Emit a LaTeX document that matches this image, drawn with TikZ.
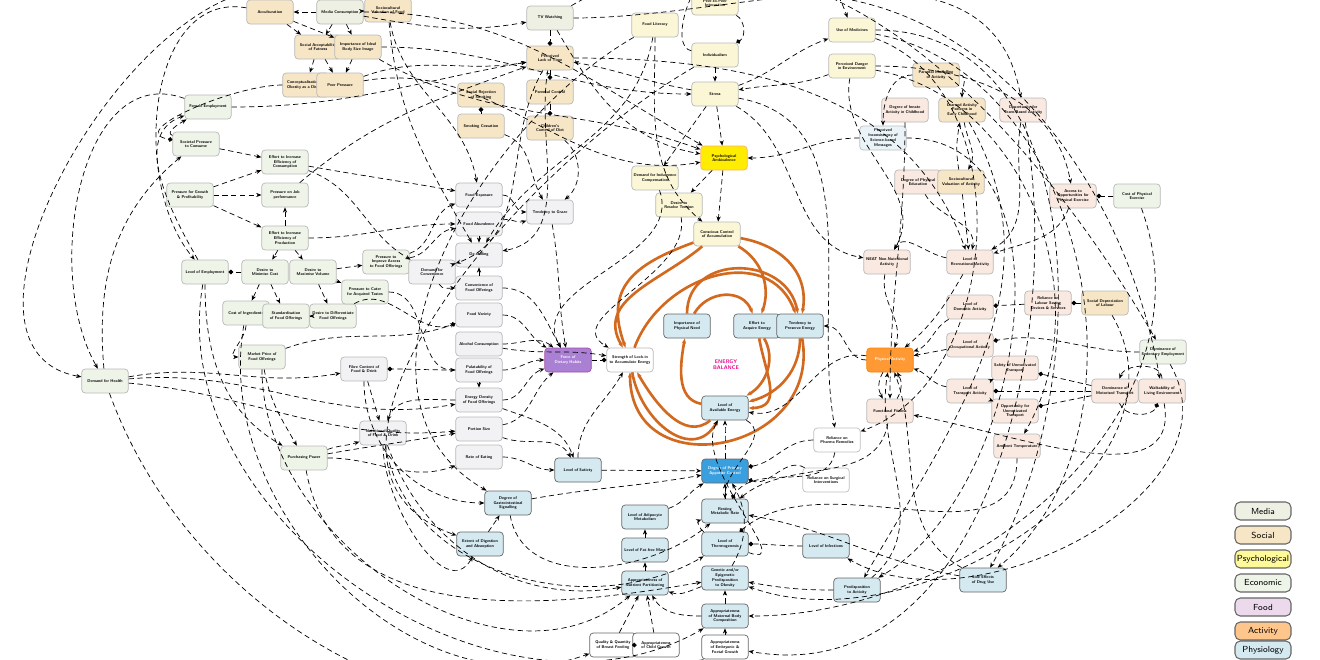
\documentclass[tikz,border=0pt]{standalone}
\usepackage{tikz}
\usetikzlibrary{arrows.meta}
\definecolor{mediac}{HTML}{EDF0E2}
\definecolor{socialc}{HTML}{F6E6C6}
\definecolor{psychc}{HTML}{FBF6D6}
\definecolor{econc}{HTML}{EEF4E8}
\definecolor{foodc}{HTML}{F2F2F5}
\definecolor{actc}{HTML}{F9E9E0}
\definecolor{physc}{HTML}{D5E9F1}
\definecolor{loopc}{HTML}{D2691E}
\newcommand{\nohyph}{\hyphenpenalty=10000\exhyphenpenalty=10000\relax}

\begin{document}
\begin{tikzpicture}[x=0.02cm, y=-0.02cm,
    main/.style = {draw=gray!55, rounded corners=2pt, align=center, inner sep=1pt,
        minimum height=0.48cm, text width=0.86cm, font=\sffamily\bfseries\fontsize{2.3}{2.7}\selectfont,
        execute at begin node=\nohyph},
    media/.style = {main, fill=mediac},
    social/.style = {main, fill=socialc},
    psych/.style = {main, fill=psychc},
    econ/.style = {main, fill=econc},
    food/.style = {main, fill=foodc},
    act/.style = {main, fill=actc},
    phys/.style = {main, fill=physc, draw=gray!80!black},
    key/.style = {main, draw=gray!80!black, line width=0.6pt, text width=1.05cm, minimum height=0.36cm, rounded corners=3pt, font=\sffamily\fontsize{5}{6}\selectfont},
    link/.style = {densely dashed, line width=0.4pt, -{Stealth[length=3pt,width=2.4pt]}},
    neg/.style = {densely dashed, line width=0.4pt, -{Circle[length=2.6pt]}},
    eb/.style = {draw=loopc, line width=1.5pt, -{Stealth[length=3pt]}}]
\fill[white] (0,0) rectangle (1320,660);
\useasboundingbox (0,0) rectangle (1320,660);

% social and media
\node [social] (acc) at (270,12) {Acculturation};
\node [media] (media) at (340,12) {Media Consumption};
\node [social] (scvf) at (388,10) {Sociocultural Valuation of Food};
\node [social] (sacc) at (318,47) {Social Acceptability of Fatness};
\node [social] (ideal) at (358,47) {Importance of Ideal Body Size Image};
\node [social] (comm) at (306,85) {Conceptualisation of Obesity as a Disease};
\node [social] (peer) at (340,85) {Peer Pressure};
\node [social] (srs) at (481,95) {Social Rejection of Smoking};
\node [social] (smoke) at (481,126) {Smoking Cessation};
\node [social] (pctrl) at (550,92) {Parental Control};
\node [social] (child) at (550,128) {Children's Control of Diet};
\node [media] (tv) at (550,18) {TV Watching};
\node [social] (lack) at (550,58) {Perceived Lack of Time};

% economic
\node [econ] (femp) at (208,107) {Female Employment};
\node [econ] (spc) at (196,144) {Societal Pressure to Consume};
\node [econ] (eic) at (285,162) {Effort to Increase Efficiency of Consumption};
\node [econ] (pgp) at (190,195) {Pressure for Growth \& Profitability};
\node [econ] (pjp) at (285,195) {Pressure on Job performance};
\node [econ] (eip) at (285,238) {Effort to Increase Efficiency of Production};
\node [econ] (lemp) at (205,272) {Level of Employment};
\node [econ] (dmc) at (265,272) {Desire to Minimise Cost};
\node [econ] (dmv) at (313,272) {Desire to Maximise Volume};
\node [econ] (coi) at (246,313) {Cost of Ingredients};
\node [econ] (std) at (286,316) {Standardisation of Food Offerings};
\node [econ] (ddf) at (333,316) {Desire to Differentiate Food Offerings};
\node [econ] (pia) at (386,262) {Pressure to Improve Access to Food Offerings};
\node [econ] (pcat) at (365,292) {Pressure to Cater for Acquired Tastes};
\node [econ] (mpf) at (262,357) {Market Price of Food Offerings};
\node [econ] (dfh) at (105,381) {Demand for Health};
\node [econ] (pp) at (304,458) {Purchasing Power};

% food
\node [food] (fexp) at (479,195) {Food Exposure};
\node [food] (fabun) at (479,224) {Food Abundence};
\node [food] (deskill) at (479,255) {De-skilling};
\node [food] (dconv) at (432,272) {Demand for Convenience};
\node [food] (conv) at (479,288) {Convenience of Food Offerings};
\node [food] (fvar) at (479,315) {Food Variety};
\node [food] (alc) at (479,344) {Alcohol Consumption};
\node [food] (graze) at (550,212) {Tendency to Graze};
\node [food] (palat) at (479,370) {Palatability of Food Offerings};
\node [food] (fibre) at (364,369) {Fibre Content of Food \& Drink};
\node [food] (edens) at (479,400) {Energy Density of Food Offerings};
\node [food] (nutq) at (383,433) {Nutritional Quality of Food \& Drink};
\node [food] (port) at (479,429) {Portion Size};
\node [food] (rate) at (479,457) {Rate of Eating};
\node [main, fill={rgb:violet,2;blue,1;white,3}, text=white, draw=violet!70] (fdh) at (568,360) {Force of Dietary Habits};

% psychological
\node [psych] (flit) at (655,25) {Food Literacy};
\node [psych] (p2p) at (715,3) {Peer-to-Peer Interaction};
\node [psych] (indiv) at (715,55) {Individualism};
\node [psych] (stress) at (715,94) {Stress};
\node [psych] (med) at (852,30) {Use of Medicines};
\node [psych] (danger) at (852,66) {Perceived Danger in Environment};
\node [main, fill=yellow!95!orange, draw=orange!60] (pamb) at (724,158) {Psychological Ambivalence};
\node [psych] (dic) at (655,178) {Demand for Indulgence Compensation};
\node [psych] (drt) at (679,205) {Desire to Resolve Tension};
\node [psych] (cca) at (717,234) {Conscious Control of Accumulation};

% activity
\node [social] (pma) at (936,75) {Parental Modelling of Activity};
\node [act] (dia) at (905,110) {Degree of Innate Activity in Childhood};
\node [social] (lap) at (962,110) {Learned Activity Patterns in Early Childhood};
\node [act] (otb) at (1023,110) {Opportunity for Team-Based Activity};
\node [phys, fill=physc!50, draw=gray!50] (pisb) at (883,138) {Perceived Inconsistency of Science-based Messages};
\node [act] (dpe) at (918,182) {Degree of Physical Education};
\node [social] (sva) at (961,182) {Sociocultural Valuation of Activity};
\node [act] (aope) at (1073,196) {Access to Opportunities for Physical Exercise};
\node [econ] (cpe) at (1137,196) {Cost of Physical Exercise};
\node [act] (neat) at (887,262) {NEAT Non-Nutritional Activity};
\node [act] (lra) at (970,262) {Level of Recreational Activity};
\node [act] (lda) at (970,307) {Level of Domestic Activity};
\node [act] (rlsd) at (1048,303) {Reliance on Labour Saving Devices \& Services};
\node [social] (sdl) at (1105,303) {Social Depreciation of Labour};
\node [main, fill=orange!80, text=white, draw=orange] (pa) at (890,360) {Physical Activity};
\node [act] (ff) at (890,411) {Functional Fitness};
\node [act] (loa) at (970,345) {Level of Occupational Activity};
\node [act] (sut) at (1015,368) {Safety of Unmotivated Transport};
\node [act] (lta) at (970,391) {Level of Transport Activity};
\node [econ] (dse) at (1163,352) {Dominance of Sedentary Employment};
\node [act] (dmt) at (1115,391) {Dominance of Motorised Transport};
\node [act] (wle) at (1162,391) {Walkability of Living Environment};
\node [act] (out) at (1015,411) {Opportunity for Unmotivated Transport};
\node [act] (amb) at (1017,446) {Ambient Temperature};

% physiology and energy balance
\node [phys] (ipn) at (687,326) {Importance of Physical Need};
\node [phys] (eae) at (757,326) {Effort to Acquire Energy};
\node [phys] (tpe) at (800,326) {Tendency to Preserve Energy};
\node [food, fill=white] (slae) at (630,360) {Strength of Lock-in to Accumulate Energy};
\node [font=\sffamily\bfseries\fontsize{3}{3.5}\selectfont, text=magenta, align=center] (ebal) at (726,365) {ENERGY\\BALANCE};
\node [phys] (lae) at (725,408) {Level of Available Energy};
\node [main, fill=cyan!75!blue!80, text=white, draw=gray!80!black] (dpac) at (725,471) {Degree of Primary Appetite Control};
\node [phys, fill=white, draw=gray!50] (rpr) at (837,440) {Reliance on Pharma Remedies};
\node [phys, fill=white, draw=gray!50] (rsi) at (826,480) {Reliance on Surgical Interventions};
\node [phys] (sat) at (578,470) {Level of Satiety};
\node [phys] (dgs) at (508,503) {Degree of Gastrointestinal Signalling};
\node [phys] (eda) at (480,544) {Extent of Digestion and Absorption};
\node [phys] (lam) at (645,517) {Level of Adipocyte Metabolism};
\node [phys] (lffm) at (645,550) {Level of Fat-free Mass};
\node [phys] (rmr) at (725,511) {Resting Metabolic Rate};
\node [phys] (lth) at (725,544) {Level of Thermogenesis};
\node [phys] (gen) at (725,578) {Genetic and/or Epigenetic Predisposition to Obesity};
\node [phys] (anp) at (645,583) {Appropriateness of Nutrient Partitioning};
\node [phys] (linf) at (826,546) {Level of Infections};
\node [phys] (pta) at (857,590) {Predisposition to Activity};
\node [phys] (sedu) at (983,580) {Side Effects of Drug Use};
\node [phys] (amc) at (725,616) {Appropriateness of Maternal Body Composition};
\node [phys, fill=white] (qbf) at (613,645) {Quality \& Quantity of Breast Feeding};
\node [phys, fill=white] (acg) at (656,645) {Appropriateness of Child Growth};
\node [phys, fill=white] (aefg) at (725,647) {Appropriateness of Embryonic \& Foetal Growth};

% key
\node [key, fill=mediac] (kmedia) at (1263,511) {Media};
\node [key, fill=socialc] (ksocial) at (1263,535) {Social};
\node [key, fill=yellow!40] (kpsych) at (1263,559) {Psychological};
\node [key, fill=econc] (kecon) at (1263,583) {Economic};
\node [key, fill=violet!15] (kfood) at (1263,607) {Food};
\node [key, fill=orange!45] (kact) at (1263,631) {Activity};
\node [key, fill=physc] (kphys) at (1263,650) {Physiology};

% energy balance loop
\draw[eb] (cca) to[out=-10,in=80,looseness=1.1] (tpe);
\draw[eb] (cca) to[out=-30,in=70] (eae);
\draw[eb] (cca) to[out=-160,in=110,looseness=1.3] (slae);
\draw[eb] (cca) to[out=-140,in=120,looseness=1.1] (slae);
\draw[eb] (ipn) to[out=90,in=100,looseness=1.4] (tpe);
\draw[eb] (ipn) to[out=60,in=110,looseness=1.2] (eae);
\draw[eb] (slae) to[out=70,in=110,looseness=1.2] (tpe);
\draw[eb] (eae) to[out=-60,in=30] (lae);
\draw[eb] (tpe) to[out=-90,in=15] (lae);
\draw[eb] (lae) to[out=170,in=-100] (ipn);
\draw[eb] (slae) to[out=-80,in=-120,looseness=1.3] (lae);
\draw[eb] (lae) to[out=-140,in=-60] (slae);
\draw[eb] (tpe) to[out=-80,in=-90,looseness=1.7] (slae);
\draw[eb] (eae) to[out=-80,in=0,looseness=1.3] (lae);

% social and media links
\draw[link] (media) -- (acc);
\draw[link] (media) -- (scvf);
\draw[link] (acc) -- (sacc);
\draw[link] (acc) -- (ideal);
\draw[link] (media) -- (ideal);
\draw[link] (media) -- (sacc);
\draw[link] (sacc) -- (comm);
\draw[link] (sacc) -- (peer);
\draw[link] (ideal) -- (peer);
\draw[link] (media) to[out=-10,in=190] (tv);
\draw[neg] (tv) -- (lack);
\draw[neg] (lack) -- (pctrl);
\draw[neg] (pctrl) -- (child);
\draw[neg] (smoke) -- (srs);
\draw[link] (smoke) to[out=-20,in=120] (graze);
\draw[link] (child) to[out=-40,in=40] (graze);
\draw[link] (stress) to[out=170,in=-10] (lack);
\draw[neg] (comm) to[out=180,in=170] (spc);
\draw[link] (peer) to[out=20,in=190] (lack);
\draw[link] (scvf) to[out=-80,in=100] (fexp);
\draw[link] (scvf) to[out=-85,in=120] (deskill);
\draw[link] (ideal) to[out=-30,in=160] (pamb);

% economic links
\draw[link] (femp) to[out=0,in=190] (lack);
\draw[link] (spc) -- (eic);
\draw[link] (pgp) -- (eic);
\draw[link] (pgp) -- (pjp);
\draw[link] (pgp) -- (eip);
\draw[link] (eip) -- (pjp);
\draw[link] (eip) -- (dmc);
\draw[link] (eip) -- (dmv);
\draw[neg] (dmc) -- (lemp);
\draw[link] (dmc) -- (coi);
\draw[link] (dmc) -- (std);
\draw[link] (dmv) -- (ddf);
\draw[link] (std) -- (ddf);
\draw[link] (dmv) -- (pia);
\draw[link] (dmv) -- (pcat);
\draw[link] (eic) to[out=-10,in=170] (fexp);
\draw[link] (eic) to[out=-20,in=150] (dconv);
\draw[link] (eip) to[out=0,in=180] (fabun);
\draw[link] (pjp) to[out=40,in=200] (lack);
\draw[link] (pia) to[out=20,in=200] (fexp);
\draw[link] (pia) to[out=10,in=190] (fabun);
\draw[link] (pcat) to[out=0,in=180] (palat);
\draw[neg] (ddf) to[out=30,in=200] (fvar);
\draw[link] (lemp) to[out=120,in=200] (femp);
\draw[link] (coi) to[out=-90,in=180] (mpf);
\draw[link] (mpf) to[out=20,in=200] (fvar);
\draw[link] (mpf) to[out=-80,in=120] (pp);
\draw[link] (lemp) to[out=-90,in=150] (pp);
\draw[link] (pp) to[out=20,in=200] (nutq);
\draw[link] (pp) to[out=10,in=190] (port);
\draw[link] (pp) to[out=0,in=200] (rate);
\draw[link] (dfh) to[out=10,in=190] (fibre);
\draw[link] (dfh) to[out=5,in=190] (edens);
\draw[link] (dfh) to[out=-5,in=185] (port);
\draw[link] (dfh) to[out=95,in=220] (spc);
\draw[link] (spc) to[out=160,in=210] (femp);
\draw[neg] (palat) to[out=180,in=0] (fibre);
\draw[link] (fibre) -- (nutq);
\draw[link] (edens) to[out=180,in=70] (nutq);
\draw[link] (fibre) to[out=-90,in=180] (dgs);

% food links
\draw[link] (fexp) to[out=0,in=180] (graze);
\draw[link] (fabun) to[out=10,in=200] (graze);
\draw[link] (fabun) -- (deskill);
\draw[link] (deskill) -- (dconv);
\draw[link] (conv) -- (deskill);
\draw[link] (dconv) to[out=-60,in=180] (conv);
\draw[link] (lack) to[out=-120,in=20] (dconv);
\draw[link] (lack) to[out=-100,in=10] (deskill);
\draw[link] (palat) -- (edens);
\draw[link] (fvar) to[out=0,in=150] (fdh);
\draw[link] (alc) to[out=0,in=140] (fdh);
\draw[link] (palat) to[out=0,in=180] (fdh);
\draw[link] (edens) to[out=0,in=200] (fdh);
\draw[link] (port) to[out=10,in=220] (fdh);
\draw[link] (conv) to[out=0,in=120] (fdh);
\draw[link] (graze) to[out=-80,in=100] (fdh);
\draw[link] (rate) to[out=0,in=180] (sat);
\draw[link] (port) to[out=-20,in=120] (sat);
\draw[link] (edens) to[out=-20,in=110] (sat);
\draw[neg] (fdh) -- (slae);
\draw[link] (sat) -- (dpac);
\draw[link] (dgs) to[out=10,in=190] (dpac);
\draw[link] (eda) -- (dgs);
\draw[link] (nutq) to[out=-90,in=-120] (eda);
\draw[link] (alc) to[out=-10,in=170] (slae);

% psychological links
\draw[link] (indiv) to[out=170,in=120] (p2p);
\draw[neg] (p2p) to[out=-30,in=30] (indiv);
\draw[link] (indiv) -- (stress);
\draw[link] (stress) -- (pamb);
\draw[link] (stress) -- (dic);
\draw[link] (stress) to[out=20,in=200] (med);
\draw[link] (stress) to[out=-30,in=170] (neat);
\draw[link] (pamb) -- (drt);
\draw[link] (pamb) -- (cca);
\draw[link] (pisb) to[out=180,in=0] (pamb);
\draw[link] (dic) to[out=-70,in=120] (fdh);
\draw[link] (drt) to[out=-80,in=150] (slae);
\draw[link] (flit) to[out=-90,in=140] (cca);
\draw[link] (flit) to[out=-100,in=60] (deskill);
\draw[link] (med) to[out=0,in=60] (sedu);
\draw[link] (danger) to[out=-100,in=60] (neat);
\draw[link] (danger) to[out=200,in=10] (stress);
\draw[link] (ideal) to[out=0,in=180] (stress);
\draw[link] (peer) to[out=10,in=190] (pamb);
\draw[link] (tv) to[out=-60,in=170] (pamb);
\draw[link] (media) to[out=0,in=150] (pamb);

% activity links
\draw[link] (pma) to[out=0,in=90] (lap);
\draw[link] (pma) to[out=180,in=90] (pisb);
\draw[link] (sva) to[out=100,in=-100] (lap);
\draw[link] (lap) to[out=-80,in=60] (sva);
\draw[link] (dia) to[out=-90,in=90] (ff);
\draw[link] (dpe) to[out=-60,in=80] (lra);
\draw[link] (sva) -- (lra);
\draw[link] (otb) to[out=-100,in=30] (lra);
\draw[link] (aope) to[out=-110,in=20] (lra);
\draw[neg] (cpe) -- (aope);
\draw[link] (lra) to[out=170,in=60] (neat);
\draw[link] (neat) to[out=-100,in=70] (pa);
\draw[link] (lra) to[out=-120,in=40] (pa);
\draw[link] (lda) to[out=-150,in=20] (pa);
\draw[link] (loa) -- (pa);
\draw[link] (lta) to[out=170,in=-20] (pa);
\draw[neg] (rlsd) -- (lda);
\draw[neg] (sdl) -- (rlsd);
\draw[neg] (dse) to[out=180,in=10] (loa);
\draw[neg] (dmt) -- (lta);
\draw[neg] (dmt) -- (sut);
\draw[neg] (dmt) -- (out);
\draw[link] (sut) -- (lta);
\draw[link] (out) -- (lta);
\draw[link] (wle) to[out=90,in=70] (dmt);
\draw[neg] (dmt) to[out=-70,in=-110] (wle);
\draw[link] (pa) to[out=-120,in=120] (ff);
\draw[link] (ff) to[out=60,in=-60] (pa);
\draw[link] (pa) to[out=180,in=0] (tpe);
\draw[link] (pa) to[out=170,in=-10] (lae);
\draw[link] (lack) to[out=0,in=110] (lra);
\draw[link] (tv) to[out=0,in=100] (otb);
\draw[link] (danger) to[out=0,in=100] (aope);
\draw[neg] (amb) to[out=-90,in=40] (lth);
\draw[link] (pta) to[out=40,in=-100] (pa);
\draw[link] (sedu) to[out=150,in=-70] (pa);

% physiology links
\draw[link] (dpac) to[out=90,in=-90] (lae);
\draw[link] (rmr) -- (dpac);
\draw[link] (lth) to[out=150,in=200] (rmr);
\draw[link] (lam) to[out=20,in=210] (dpac);
\draw[link] (lffm) -- (lam);
\draw[link] (anp) -- (lffm);
\draw[link] (gen) to[out=-160,in=-20] (anp);
\draw[link] (amc) -- (gen);
\draw[link] (aefg) -- (amc);
\draw[link] (qbf) -- (anp);
\draw[link] (acg) -- (anp);
\draw[neg] (acg) -- (qbf);
\draw[link] (amc) to[out=180,in=-60] (anp);
\draw[neg] (linf) to[out=180,in=0] (lth);
\draw[neg] (rsi) to[out=150,in=-20] (dpac);
\draw[neg] (rpr) to[out=180,in=10] (dpac);
\draw[neg] (rpr) to[out=-100,in=60] (rmr);
\draw[link] (pta) to[out=180,in=-10] (gen);
\draw[link] (sedu) to[out=170,in=-10] (rmr);
\draw[link] (gen) to[out=60,in=-60] (dpac);
\draw[link] (lth) to[out=-20,in=-120] (lae);
\draw[link] (med) to[out=-20,in=20] (rpr);
\draw[link] (sat) to[out=90,in=-120] (slae);
\draw[link] (lae) to[out=-30,in=90] (rmr);
\draw[link] (ff) to[out=-100,in=40] (rmr);

% long outer sweeps
\draw[link] (acc) to[out=170,in=130] (lemp);
\draw[link] (media) to[out=150,in=170] (dfh);
\draw[link] (dfh) to[out=-70,in=-150] (aefg);
\draw[link] (lemp) to[out=-100,in=-150] (amc);
\draw[link] (coi) to[out=-100,in=-160] (qbf);
\draw[link] (mpf) to[out=-90,in=-140] (anp);
\draw[link] (pp) to[out=-80,in=-170] (gen);
\draw[link] (nutq) to[out=-80,in=-150] (lth);
\draw[link] (nutq) to[out=-70,in=-170] (anp);
\draw[link] (dgs) to[out=-80,in=-140] (rmr);
\draw[link] (femp) to[out=160,in=120] (dfh);
\draw[link] (scvf) to[out=60,in=110] (med);
\draw[link] (tv) to[out=30,in=120] (dse);
\draw[link] (p2p) to[out=10,in=100] (wle);
\draw[link] (med) to[out=-10,in=40] (sedu);
\draw[link] (danger) to[out=-10,in=60] (amb);
\draw[link] (pisb) to[out=0,in=30] (pta);
\draw[link] (stress) to[out=-10,in=100] (rpr);
\draw[link] (wle) to[out=-80,in=-10] (ff);
\draw[link] (dse) to[out=-60,in=-30] (linf);
\draw[link] (sdl) to[out=-60,in=-20] (gen);
\draw[link] (cpe) to[out=-70,in=0] (amc);
\draw[link] (lap) to[out=-60,in=60] (pta);
\draw[link] (otb) to[out=-80,in=-10] (aefg);
\draw[link] (flit) to[out=-150,in=150] (dgs);
\draw[link] (indiv) to[out=-150,in=160] (eda);
\end{tikzpicture}
\end{document}
